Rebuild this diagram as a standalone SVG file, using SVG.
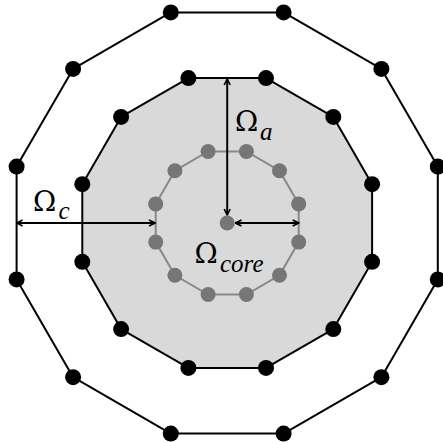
<svg xmlns="http://www.w3.org/2000/svg" width="443" height="443" viewBox="0 0 443 443">
  <style>
    .ring { fill: none; stroke: #000; stroke-width: 2; stroke-linejoin: round; }
    .mid { fill: #d9d9d9; stroke: #000; stroke-width: 2; stroke-linejoin: round; }
    .inner { fill: none; stroke: #888; stroke-width: 2; }
    .bdot { fill: #000; }
    .gdot { fill: #767676; }
    .dim { stroke: #000; stroke-width: 2; fill: none; marker-start: url(#tip); marker-end: url(#tip); }
    .lbl { font-family: "DejaVu Serif", "Liberation Serif", serif; font-size: 28px; fill: #000; }
    .sub { font-family: "Liberation Serif", "Times New Roman", serif; font-style: italic; font-size: 25px; }
  </style>
  <defs>
    <marker id="tip" viewBox="0 0 8 8" refX="7" refY="4" markerWidth="8" markerHeight="8" markerUnits="userSpaceOnUse" orient="auto-start-reverse">
      <path d="M1,1 L7,4 L1,7" fill="none" stroke="#000" stroke-width="1.6"/>
    </marker>
  </defs>

  <!-- outer ring -->
  <g id="outer">
    <polygon class="ring" points="170.8,12.4 283.6,12.4 381.4,68.9 437.8,166.6 437.8,279.4 381.4,377.2 283.6,433.6 170.8,433.6 73.1,377.2 16.6,279.4 16.6,166.6 73.1,68.9"/>
    <g class="bdot">
      <circle cx="170.8" cy="12.4" r="8"/><circle cx="283.6" cy="12.4" r="8"/>
      <circle cx="381.4" cy="68.9" r="8"/><circle cx="437.8" cy="166.6" r="8"/>
      <circle cx="437.8" cy="279.4" r="8"/><circle cx="381.4" cy="377.2" r="8"/>
      <circle cx="283.6" cy="433.6" r="8"/><circle cx="170.8" cy="433.6" r="8"/>
      <circle cx="73.1" cy="377.2" r="8"/><circle cx="16.6" cy="279.4" r="8"/>
      <circle cx="16.6" cy="166.6" r="8"/><circle cx="73.1" cy="68.9" r="8"/>
    </g>
  </g>

  <!-- shaded middle ring -->
  <g id="middle">
    <polygon class="mid" points="188.4,78.1 266,78.1 333.3,116.9 372.1,184.2 372.1,261.8 333.3,329.1 266,367.9 188.4,367.9 121.1,329.1 82.3,261.8 82.3,184.2 121.1,116.9"/>
  </g>

  <!-- core ring -->
  <g id="core">
    <polygon class="inner" points="208.1,151.5 246.4,151.5 279.5,170.7 298.7,203.9 298.7,242.1 279.5,275.3 246.4,294.5 208.1,294.5 174.9,275.3 155.7,242.1 155.7,203.9 174.9,170.7"/>
  </g>

  <!-- dimension arrows -->
  <g id="connectors">
    <line class="dim" x1="227.2" y1="79" x2="227.2" y2="215"/>
    <line class="dim" x1="235.5" y1="223" x2="298.7" y2="223"/>
    <line class="dim" x1="16.6" y1="223" x2="155" y2="223"/>
  </g>

  <g id="middle-nodes" class="bdot">
    <circle cx="188.4" cy="78.1" r="8"/><circle cx="266" cy="78.1" r="8"/>
    <circle cx="333.3" cy="116.9" r="8"/><circle cx="372.1" cy="184.2" r="8"/>
    <circle cx="372.1" cy="261.8" r="8"/><circle cx="333.3" cy="329.1" r="8"/>
    <circle cx="266" cy="367.9" r="8"/><circle cx="188.4" cy="367.9" r="8"/>
    <circle cx="121.1" cy="329.1" r="8"/><circle cx="82.3" cy="261.8" r="8"/>
    <circle cx="82.3" cy="184.2" r="8"/><circle cx="121.1" cy="116.9" r="8"/>
  </g>

  <g id="core-nodes" class="gdot">
    <circle cx="208.1" cy="151.5" r="7.5"/><circle cx="246.4" cy="151.5" r="7.5"/>
    <circle cx="279.5" cy="170.7" r="7.5"/><circle cx="298.7" cy="203.9" r="7.5"/>
    <circle cx="298.7" cy="242.1" r="7.5"/><circle cx="279.5" cy="275.3" r="7.5"/>
    <circle cx="246.4" cy="294.5" r="7.5"/><circle cx="208.1" cy="294.5" r="7.5"/>
    <circle cx="174.9" cy="275.3" r="7.5"/><circle cx="155.7" cy="242.1" r="7.5"/>
    <circle cx="155.7" cy="203.9" r="7.5"/><circle cx="174.9" cy="170.7" r="7.5"/>
    <circle id="center" cx="227.2" cy="223" r="7.5"/>
  </g>

  <!-- labels -->
  <g id="labels">
    <text class="lbl" x="235" y="130.5">Ω</text><text class="sub" x="260" y="140">a</text>
    <text class="lbl" x="33" y="211">Ω</text><text class="sub" x="58.5" y="218.5">c</text>
    <text class="lbl" x="194.5" y="263">Ω</text><text class="sub" x="220" y="271.5">core</text>
  </g>
</svg>
